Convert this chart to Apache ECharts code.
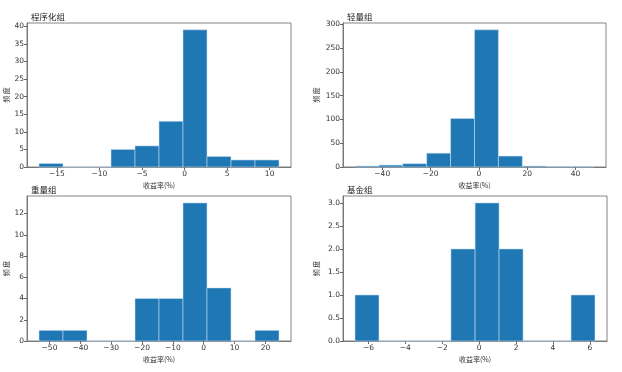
<!DOCTYPE html>
<html>
<head>
<meta charset="utf-8">
<script src="https://cdn.jsdelivr.net/npm/echarts@6/dist/echarts.min.js"></script>
<style>html,body{margin:0;padding:0;background:#fff}#c{width:622px;height:372px}</style>
</head>
<body>
<div id="c"></div>
<script>
// ---- data ----
const titles = ['程序化组', '轻量组', '重量组', '基金组'];
const xLabel = '收益率(%)';
const yLabel = '频 度';

const edges1 = [-17.1, -14.28, -11.46, -8.64, -5.82, -3.0, -0.18, 2.64, 5.46, 8.28, 11.1];
const counts1 = [1, 0, 0, 5, 6, 13, 39, 3, 2, 2];
const edges2 = [-51.3, -41.4, -31.5, -21.6, -11.7, -1.8, 8.1, 18.0, 27.9, 37.8, 47.7];
const counts2 = [2, 4, 7, 29, 102, 288, 23, 2, 1, 1];
const edges3 = [-53.4, -45.62, -37.84, -30.06, -22.28, -14.5, -6.72, 1.06, 8.84, 16.62, 24.4];
const counts3 = [1, 1, 0, 0, 4, 4, 13, 5, 0, 1];
const edges4 = [-6.73, -5.43, -4.13, -2.83, -1.53, -0.22, 1.08, 2.38, 3.68, 4.98, 6.28];
const counts4 = [1, 0, 0, 0, 2, 3, 2, 0, 0, 1];

const xTicks1 = [-15, -10, -5, 0, 5, 10];
const xTicks2 = [-40, -20, 0, 20, 40];
const xTicks3 = [-50, -40, -30, -20, -10, 0, 10, 20];
const xTicks4 = [-6, -4, -2, 0, 2, 4, 6];
const yTicks1 = [0, 5, 10, 15, 20, 25, 30, 35, 40];
const yTicks2 = [0, 50, 100, 150, 200, 250, 300];
const yTicks3 = [0, 2, 4, 6, 8, 10, 12];
const yTicks4 = [0, 0.5, 1.0, 1.5, 2.0, 2.5, 3.0];

// ---- layout ----
const panels = [
  {edges: edges1, counts: counts1, xt: xTicks1, yt: yTicks1, dec: 0, grid: {left: 27, top: 23, width: 264, height: 144}},
  {edges: edges2, counts: counts2, xt: xTicks2, yt: yTicks2, dec: 0, grid: {left: 343, top: 23, width: 263, height: 144}},
  {edges: edges3, counts: counts3, xt: xTicks3, yt: yTicks3, dec: 0, grid: {left: 27, top: 196, width: 264, height: 145}},
  {edges: edges4, counts: counts4, xt: xTicks4, yt: yTicks4, dec: 1, grid: {left: 343, top: 196, width: 264, height: 145}}
];

const FONT = 'DejaVu Sans';
const CJK = 'Noto Sans CJK SC';
const fmt = (v, d) => (v < 0 ? '\u2212' : '') + Math.abs(v).toFixed(d);

const option = {
  animation: false,
  backgroundColor: '#fff',
  title: [], grid: [], xAxis: [], yAxis: [], series: []
};

panels.forEach((p, i) => {
  const lo = p.edges[0], hi = p.edges[p.edges.length - 1];
  const m = (hi - lo) * 0.05;
  const ymax = Math.max(...p.counts) * 1.05;
  option.title.push({
    text: titles[i], left: p.grid.left - 1, top: p.grid.top - 15,
    textStyle: {fontFamily: CJK, fontSize: 8.5, fontWeight: 'normal', color: '#222'}
  });
  option.grid.push(Object.assign({show: true, borderColor: '#666', borderWidth: 0.8, backgroundColor: 'transparent'}, p.grid));
  option.xAxis.push({
    type: 'value', gridIndex: i, min: lo - m, max: hi + m,
    name: xLabel, nameLocation: 'middle', nameGap: 15,
    nameTextStyle: {fontFamily: CJK, fontSize: 7, color: '#333'},
    splitLine: {show: false},
    axisLine: {show: true, onZero: false, lineStyle: {color: '#666', width: 0.8}},
    axisTick: {show: true, length: 3, customValues: p.xt, lineStyle: {color: '#444', width: 0.8}},
    axisLabel: {customValues: p.xt, fontFamily: FONT, fontSize: 7.5, color: '#333', margin: 3,
      formatter: v => fmt(v, 0)}
  });
  option.yAxis.push({
    type: 'value', gridIndex: i, min: 0, max: ymax,
    name: yLabel, nameLocation: 'middle', nameGap: i % 2 === 0 ? 17 : 23, nameRotate: 90,
    nameTextStyle: {fontFamily: CJK, fontSize: 7, color: '#333'},
    splitLine: {show: false},
    axisLine: {show: true, onZero: false, lineStyle: {color: '#666', width: 0.8}},
    axisTick: {show: true, length: 3, customValues: p.yt, lineStyle: {color: '#444', width: 0.8}},
    axisLabel: {customValues: p.yt, fontFamily: FONT, fontSize: 7.5, color: '#333', margin: 3,
      formatter: v => fmt(v, p.dec)}
  });
  const data = p.counts.map((c, k) => [p.edges[k], p.edges[k + 1], c]);
  option.series.push({
    type: 'custom', xAxisIndex: i, yAxisIndex: i,
    encode: {x: [0, 1], y: 2},
    data: data,
    renderItem: (params, api) => {
      const a = api.coord([api.value(0), api.value(2)]);
      const b = api.coord([api.value(1), 0]);
      return {
        type: 'rect',
        shape: {x: a[0], y: a[1], width: b[0] - a[0], height: b[1] - a[1]},
        style: {fill: '#1f77b4', stroke: 'rgba(200,225,245,0.7)', lineWidth: 0.8}
      };
    }
  });
});

const chart = echarts.init(document.getElementById('c'), null, {renderer: 'canvas'});
chart.setOption(option);
</script>
</body>
</html>
